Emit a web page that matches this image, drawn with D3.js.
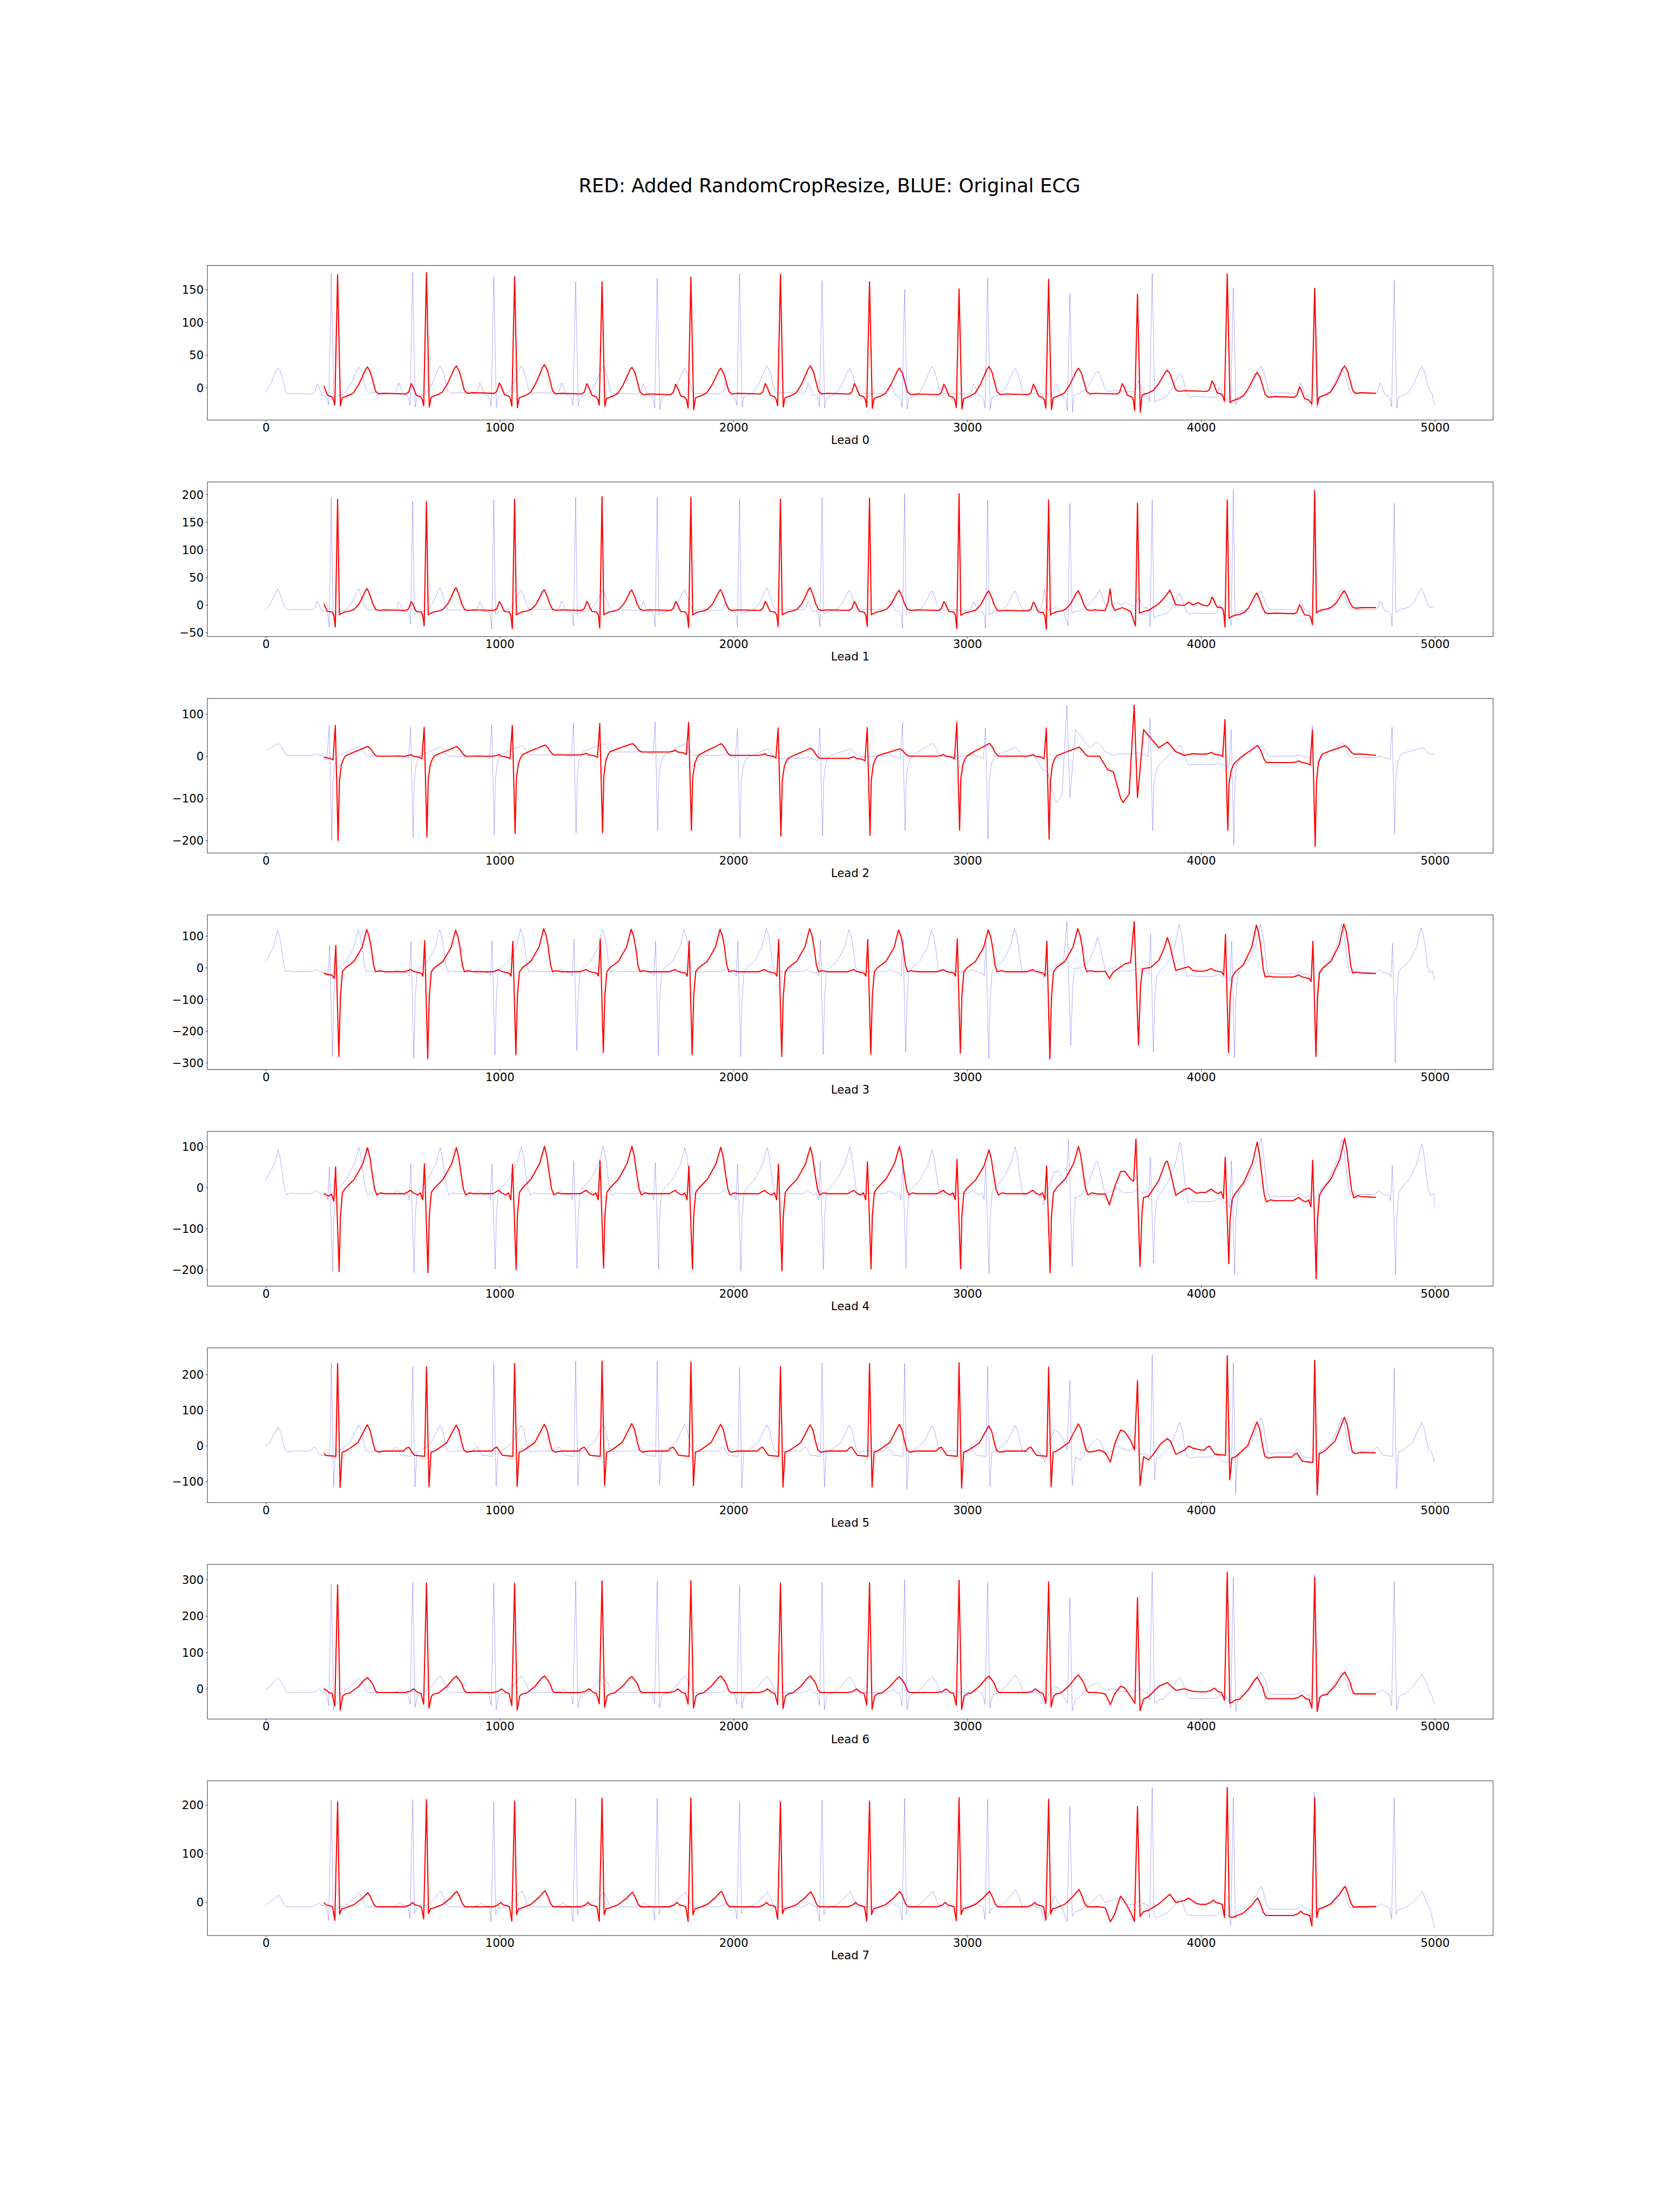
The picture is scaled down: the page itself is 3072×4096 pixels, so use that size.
<!DOCTYPE html>
<html><head><meta charset="utf-8">
<script src="https://cdn.jsdelivr.net/npm/d3@7"></script>
<style>
html,body{margin:0;padding:0;background:#fff;}
svg{display:block;}
text{font-family:"DejaVu Sans",sans-serif;fill:#000;}
</style></head><body>
<svg id="chart" width="3072" height="4096"></svg>
<script>
// ---------------- DATA ----------------
const title = "RED: Added RandomCropResize, BLUE: Original ECG";
const leadNames = ["Lead 0","Lead 1","Lead 2","Lead 3","Lead 4","Lead 5","Lead 6","Lead 7"];
const xTicks = [0,1000,2000,3000,4000,5000];
const xDomain = [-250, 5249];
const yDomains = [[-50,187.1],[-57.4,222.5],[-229.9,137.2],[-321.8,166.3],[-239.5,136.4],[-159.7,274.9],[-82.7,341.6],[-69.1,249.6]];
const yTicks = [[0,50,100,150],[-50,0,50,100,150,200],[-200,-100,0,100],[-300,-200,-100,0,100],[-200,-100,0,100],[-100,0,100,200],[0,100,200,300],[0,100,200]];

// sample span of each trace
const blueSpan = [0, 4999];
const redSpan = [248, 4748];
// R-peak sample positions (first blue beat lies before the record start)
const bluePeaks = [-65,280,628,975,1325,1674,2026,2379,2732,3087,3439,3791,4138,4485,4826];
const redPeaks = [307,687,1064,1438,1818,2201,2582,2965,3348,3728,4112,4486];
const redStretch = 1.0837;          // red beat spacing / blue beat spacing
const ectopicBlue = 10, ectopicRed = 9;   // the irregular complex

// beat shape per lead: [offset from R, kind, factor]
const templates = [
 [[-80,'B',0],[-70,'B',3],[-60,'B',16],[-53,'B',11],[-46,'B',4],[-40,'B',-2],[-24,'B',-4],[-17,'B',-8],[-11,'S',0.9],[0,'R',1],[11,'S',1],[18,'B',-6],[30,'B',-4],[45,'B',-2],[63,'T',0.05],[83,'T',0.35],[98,'T',0.65],[110,'T',0.9],[118,'T',1],[130,'T',0.8],[140,'T',0.45],[150,'T',0.1],[162,'B',0],[185,'B',1]],
 [[-80,'B',0],[-70,'B',3],[-60,'B',16],[-53,'B',11],[-46,'B',3],[-40,'B',-2],[-22,'B',-3],[-15,'B',-8],[-9,'S',1],[0,'R',1],[7,'B',-8],[14,'B',-6],[28,'B',-3],[50,'B',-1],[66,'T',0.05],[85,'T',0.3],[100,'T',0.65],[110,'T',0.9],[117,'T',1],[128,'T',0.7],[139,'T',0.3],[150,'T',0.05],[162,'B',0],[185,'B',1]],
 [[-85,'B',0],[-70,'B',2],[-62,'B',4],[-52,'B',0],[-30,'B',-2],[-18,'B',-6],[-9,'R',1],[2,'S',1],[7,'S',0.3],[15,'B',-20],[24,'B',-6],[32,'B',1],[63,'T',0.4],[97,'T',0.75],[120,'T',1],[132,'T',0.7],[145,'T',0.2],[155,'B',0],[185,'B',0]],
 [[-85,'B',0],[-72,'B',4],[-62,'B',7],[-52,'B',1],[-35,'B',-2],[-22,'B',-4],[-14,'B',-14],[-7,'R',1],[5,'S',1],[11,'S',0.3],[19,'B',0],[32,'T',0.1],[64,'T',0.24],[97,'T',0.58],[107,'T',0.82],[115,'T',1],[124,'T',0.85],[132,'T',0.6],[142,'T',0.15],[150,'B',0],[165,'B',3],[185,'B',0]],
 [[-85,'B',0],[-72,'B',5],[-62,'B',8],[-52,'B',2],[-35,'B',-3],[-24,'B',2],[-15,'B',-15],[-8,'R',1],[6,'S',1],[11,'S',0.3],[19,'B',3],[31,'T',0.12],[65,'T',0.31],[99,'T',0.64],[110,'T',0.85],[118,'T',1],[127,'T',0.8],[136,'T',0.45],[146,'T',0.1],[155,'B',-3],[170,'B',2],[185,'B',0]],
 [[-90,'B',0],[-80,'B',8],[-70,'B',11],[-58,'B',-2],[-48,'B',-12],[-20,'B',-14],[-7,'B',-15],[0,'R',1],[10,'S',1],[18,'B',-3],[31,'B',0],[43,'T',0.07],[80,'T',0.32],[104,'T',0.76],[117,'T',1],[128,'T',0.8],[140,'T',0.3],[148,'T',0.03],[160,'B',-3],[185,'B',0]],
 [[-85,'B',0],[-65,'B',3],[-52,'B',10],[-44,'B',6],[-35,'B',0],[-22,'B',-2],[-11,'S',0.75],[0,'R',1],[10,'S',1],[20,'B',-10],[30,'B',-4],[49,'B',-1],[82,'T',0.4],[106,'T',0.85],[118,'T',1],[128,'T',0.8],[139,'T',0.55],[150,'T',0.1],[158,'B',0],[185,'B',0]],
 [[-85,'B',0],[-65,'B',4],[-55,'B',9],[-45,'B',4],[-30,'B',2],[-20,'B',0],[-11,'S',1],[0,'R',1],[8,'S',0.55],[16,'B',-4],[31,'B',-2],[64,'T',0.15],[97,'T',0.6],[110,'T',0.85],[120,'T',1],[130,'T',0.7],[142,'T',0.2],[152,'B',0],[185,'B',0]]
];

// irregular complex per lead: [offset from its R (blue samples), value]
const ectopic = [
 null,
 [[-150,-10],[-127,-10],[-116,5],[-108,29],[-100,0],[-90,-10],[-60,-5],[-27,-12],[-8,-38],[0,184],[8,-15],[24,-12],[44,-10],[84,2],[110,15],[128,27],[151,0],[185,-1],[202,5],[219,0],[240,4],[255,0]],
 [[-150,0],[-118,-32],[-95,-37],[-67,-99],[-57,-110],[-33,-90],[-13,121],[0,-98],[6,-60],[24,63],[51,44],[84,20],[118,34],[151,11],[185,2],[219,6],[250,5]],
 [[-150,-12],[-127,-12],[-111,-34],[-95,-14],[-51,11],[-27,17],[-13,145],[4,-244],[12,-60],[20,-3],[51,0],[84,23],[105,60],[118,95],[128,70],[151,-9],[185,-1],[202,3],[219,-9],[250,-12]],
 [[-150,-16],[-127,-16],[-111,-42],[-90,1],[-67,38],[-51,40],[-27,20],[-15,15],[-6,118],[10,-192],[18,-60],[24,-24],[44,-21],[84,17],[111,62],[118,64],[131,35],[151,-19],[185,-5],[202,-1],[232,-14],[250,-12]],
 [[-150,-12],[-127,-20],[-107,-46],[-90,5],[-67,44],[-51,40],[-27,15],[-12,-12],[0,183],[10,-112],[24,-31],[44,-40],[67,-20],[91,5],[118,20],[131,12],[151,-24],[185,-13],[202,-1],[219,-7],[250,-12]],
 [[-150,-11],[-127,-14],[-107,-43],[-90,-14],[-67,7],[-51,3],[-27,-21],[-10,-40],[0,250],[10,-60],[24,-28],[44,-21],[84,7],[118,17],[151,-4],[185,0],[219,-7],[250,-8]],
 [[-150,-10],[-127,-12],[-107,-41],[-90,-25],[-67,12],[-51,1],[-27,-21],[-12,-40],[0,197],[10,-30],[24,-20],[44,-17],[84,-4],[110,8],[128,16],[151,-1],[185,3],[202,8],[232,-3],[250,-5]]
];

// BLUE (original) per-beat values, one row per lead
const blueR = [
 [0,175,176,170,162,168,174,164,150,168,144,175,153,152,164],
 [0,194,187,190,195,194,192,194,201,190,184,190,208,210,184],
 [0,73,69,75,79,81,66,67,80,67,121,89,63,73,69],
 [0,70,83,85,90,84,85,89,91,84,144,106,82,83,77],
 [0,50,58,57,65,60,57,63,68,53,120,73,65,65,54],
 [0,233,223,231,238,237,220,232,231,222,182,255,233,241,217],
 [0,287,293,290,296,296,284,291,300,293,249,321,306,314,296],
 [0,210,211,207,214,214,207,210,214,212,197,236,215,226,215]
];
const blueS = [
 [0,-28,-30,-31,-29,-34,-30,-32,-33,-34,-38,-23,-26,-32,-32],
 [0,-40,-35,-44,-38,-40,-40,-40,-43,-43,-38,-40,-37,-37,-38],
 [0,-200,-192,-186,-182,-176,-193,-190,-176,-197,-96,-177,-212,-215,-185],
 [0,-281,-287,-277,-262,-277,-281,-274,-268,-289,-247,-268,-283,-281,-301],
 [0,-204,-207,-198,-197,-198,-204,-199,-197,-209,-193,-184,-212,-221,-212],
 [0,-117,-116,-114,-112,-111,-118,-117,-123,-115,-98,-96,-134,-139,-121],
 [0,-57,-51,-57,-51,-51,-53,-57,-58,-53,-60,-37,-62,-62,-58],
 [0,-38,-35,-40,-40,-38,-35,-40,-38,-36,-38,-32,-49,-50,-36]
];
const blueT = [
 [30,31,33,33,31.5,29,33,29,32,29,25.5,21.6,33,29,32],
 [29,29,31,27.5,27,27.5,31,26.4,25.2,25.5,27.5,21.3,25.5,29,29],
 [30,23.5,23,26,30,30,17.7,17.7,30.6,21,34,26,25,32,20],
 [118,120,119,123,121,120,124,120,119,123,96,136,137,136,126],
 [92,98,97,100,101,97,98,99,92,99,64,110,120,118,106],
 [53,59,58,58,61,60,59,59,56,57,20,66,79,80,65],
 [30.6,29.6,35,35.6,34,35.6,35,33,34,37.7,17,32,46,45,39],
 [14.5,19,22,23,20,21,20.5,21,22,25.6,14.5,9,32,31.7,21]
];
const blueB = [
 [-9,-10,-9,-9,-9,-10,-10,-9,-10,-10,-10,-6,-15,-9,-9,-9],
 [-9,-9,-10,-10,-9,-10,-10,-9,-9,-10,-10,-2,-16,-9,-9,-5],
 [5,2,0,0,3,10,2,-5,0,0,0,5,-20,0,-3,5],
 [-13,-13,-13,-13,-13,-13,-13,-13,-13,-13,-13,-10,-28,-20,-15,-15],
 [-15,-15,-15,-15,-15,-15,-15,-15,-15,-15,-15,-12,-34,-22,-17,-17],
 [-15,-15,-15,-15,-15,-15,-15,-15,-15,-15,-15,-12,-32,-20,-15,-15],
 [-10,-10,-10,-10,-10,-10,-10,-10,-10,-10,-10,-8,-26,-15,-12,-12],
 [-10,-10,-10,-10,-10,-10,-10,-10,-10,-10,-10,-6,-28,-15,-12,-12]
];
const blueEnd = [-28,-1,5,-44,-52,-49,-44,-54];

// RED (crop-resized) per-beat values, one row per lead
const redR = [
 [173,176,170,162,169,173.5,162,151,166,143,174,152],
 [191,187,191,196,195,191,193,201,190,184,190,206],
 [73,69,73,78,80,67,68,80,67,121,87,62],
 [70,85,83,90,84,89,89,91,83,145,105,83],
 [50,58,56,65,52,57,63,68,53,118,73.5,66],
 [230.6,221.6,231,238,235.6,222,230.6,233,221,182.7,253,240],
 [285.6,290.8,290,296.5,297,290,291,298,293.7,249.6,320,306],
 [207,211,208,213.7,214,206.6,208,215,212,197,236,215]
];
const redS = [
 [-28,-30,-31,-29,-34,-30,-32,-33,-34,-38,-23,-26],
 [-40,-38,-43,-42,-41,-39,-39,-43,-44,-38,-40,-36],
 [-200,-192,-184,-182,-176,-190,-188,-176,-197,-98,-176,-214],
 [-281,-287,-275,-268,-275,-281,-274,-270,-288,-244,-268,-281],
 [-204,-207,-200,-196,-198,-203,-198,-197.5,-207,-192,-185,-221.5],
 [-117.6,-115.8,-115,-111.5,-112,-116.5,-116.5,-119.4,-115.8,-112,-96,-138.5],
 [-58,-53,-58,-51,-52.5,-54,-56,-56.7,-50,-60,-39,-62],
 [-38,-35,-39.6,-39.6,-40,-35.6,-39.6,-38.8,-37,-40,-31.7,-49.6]
];
const redT = [
 [31.5,33,35,31,29.4,33,29.6,32,29.4,26.4,23,33],
 [29.4,31,27.5,27,27.5,31,26.4,25.2,25.5,27.5,21.3,25.5],
 [23.5,23,26.6,30,30,19,17.7,30.6,21.4,34,26,25],
 [120,118,123,121,121,123,119,119,123,95,134,137],
 [97,97,100,100,98,98,100,91.6,100,63.6,110,119.6],
 [59,58,60,62,60,59,60,56,61.5,20,66.5,80],
 [31,35,35.6,34,35.6,35.6,33,35,38,17,32,46],
 [19,22,23,20,22,21,21.6,22,25.6,16,8,32]
];
const redB = [
 [-10,-10,-9,-10,-11,-10,-10,-11,-11,-10,-6,-15,-9],
 [-10,-10,-10,-10,-10,-10,-10,-10,-11,-10,-2,-16,-6],
 [-3,0,0,3,10,2,-5,0,0,0,5,-15,5],
 [-20,-13,-13,-13,-13,-13,-13,-13,-13,-13,-10,-30,-17],
 [-18,-15,-15,-15,-15,-15,-15,-15,-15,-15,-12,-32,-22],
 [-15,-15,-15,-15,-15,-15,-15,-15,-15,-15,-12,-32,-19],
 [-10,-10,-10,-10,-10,-10,-10,-10,-10,-10,-8,-27,-14],
 [-10,-10,-10,-10,-10,-10,-10,-10,-10,-10,-5,-28,-10]
];
const redEnd = [-9,-5,2,-19,-24,-20,-14,-9];

// ---------------- DRAWING ----------------
const W = 3072, H = 4096;
const svg = d3.select('#chart');
svg.append('rect').attr('width', W).attr('height', H).attr('fill', '#fff');

const left = 0.125 * W, right = 0.9 * W, top0 = 0.12 * H, bottomEdge = 0.875 * H;
const hspace = 0.4;
const axH = (bottomEdge - top0) / (8 + 7 * hspace);
const stepY = axH * (1 + hspace);
const tickFont = 21.2, titleFont = 35.6;
const fmt = d => d < 0 ? '\u2212' + Math.abs(d) : String(d);

const x = d3.scaleLinear().domain(xDomain).range([left, right]);

svg.append('text').attr('x', W / 2).attr('y', 356.3)
  .attr('text-anchor', 'middle').style('font-size', titleFont + 'px').text(title);

function beatKnots(peaks, R, S, T, B, tmpl, stretch, patch, patchIdx) {
  const pts = [];
  peaks.forEach((p, i) => {
    if (patch && i === patchIdx) {
      patch.forEach(([dt, v]) => pts.push([p + dt * stretch, v]));
      return;
    }
    tmpl.forEach(([dt, kind, f]) => {
      const base = dt < 0 ? B[i] : B[i + 1];
      let v;
      if (kind === 'R') v = R[i];
      else if (kind === 'S') v = base + f * (S[i] - base);
      else if (kind === 'T') v = base + f * (T[i] - base);
      else v = base + f;
      pts.push([p + dt * stretch, v]);
    });
  });
  return pts.sort((a, b) => a[0] - b[0]);
}

const defs = svg.append('defs');

leadNames.forEach((name, li) => {
  const top = top0 + li * stepY;
  const y = d3.scaleLinear().domain(yDomains[li]).range([top + axH, top]);
  const g = svg.append('g');

  // clip regions for the two traces
  const cb = 'clipB' + li, cr = 'clipR' + li;
  defs.append('clipPath').attr('id', cb).append('rect')
    .attr('x', x(blueSpan[0])).attr('width', x(blueSpan[1]) - x(blueSpan[0]))
    .attr('y', top - 20).attr('height', axH + 40);
  defs.append('clipPath').attr('id', cr).append('rect')
    .attr('x', x(redSpan[0])).attr('width', x(redSpan[1]) - x(redSpan[0]))
    .attr('y', top - 20).attr('height', axH + 40);

  const line = d3.line().x(d => x(d[0])).y(d => y(d[1]));

  let bPts = beatKnots(bluePeaks, blueR[li], blueS[li], blueT[li], blueB[li], templates[li], 1, ectopic[li], ectopicBlue)
    .filter(d => d[0] < blueSpan[1]);
  bPts.push([blueSpan[1], blueEnd[li]]);
  let rPts = beatKnots(redPeaks, redR[li], redS[li], redT[li], redB[li], templates[li], redStretch, ectopic[li], ectopicRed)
    .filter(d => d[0] < redSpan[1]);
  rPts.push([redSpan[1], redEnd[li]]);

  g.append('path').datum(bPts).attr('d', line)
    .attr('clip-path', `url(#${cb})`)
    .attr('fill', 'none').attr('stroke', '#0000ff').attr('stroke-width', 0.8)
    .attr('stroke-opacity', 0.42).attr('stroke-linejoin', 'round');
  g.append('path').datum(rPts).attr('d', line)
    .attr('clip-path', `url(#${cr})`)
    .attr('fill', 'none').attr('stroke', '#ff0000').attr('stroke-width', 2.1)
    .attr('stroke-linejoin', 'round');

  // axes
  const xa = g.append('g').attr('transform', `translate(0,${top + axH})`)
    .call(d3.axisBottom(x).tickValues(xTicks).tickFormat(fmt).tickSize(3.2).tickPadding(3.1));
  const ya = g.append('g').attr('transform', `translate(${left},0)`)
    .call(d3.axisLeft(y).tickValues(yTicks[li]).tickFormat(fmt).tickSize(3.2).tickPadding(3.6));
  [xa, ya].forEach(a => {
    a.select('.domain').remove();
    a.selectAll('line').attr('stroke', '#000').attr('stroke-width', 0.8);
    a.selectAll('text').style('font-size', tickFont + 'px')
      .style('font-family', '"DejaVu Sans",sans-serif').attr('fill', '#000');
  });
  ya.selectAll('text').attr('dy', '0.36em');

  g.append('rect').attr('x', left).attr('y', top).attr('width', right - left).attr('height', axH)
    .attr('fill', 'none').attr('stroke', '#000').attr('stroke-width', 0.8);

  g.append('text').attr('x', (left + right) / 2).attr('y', top + axH + 44.4)
    .attr('text-anchor', 'middle').style('font-size', tickFont + 'px').text(name);
});
</script>
</body></html>
